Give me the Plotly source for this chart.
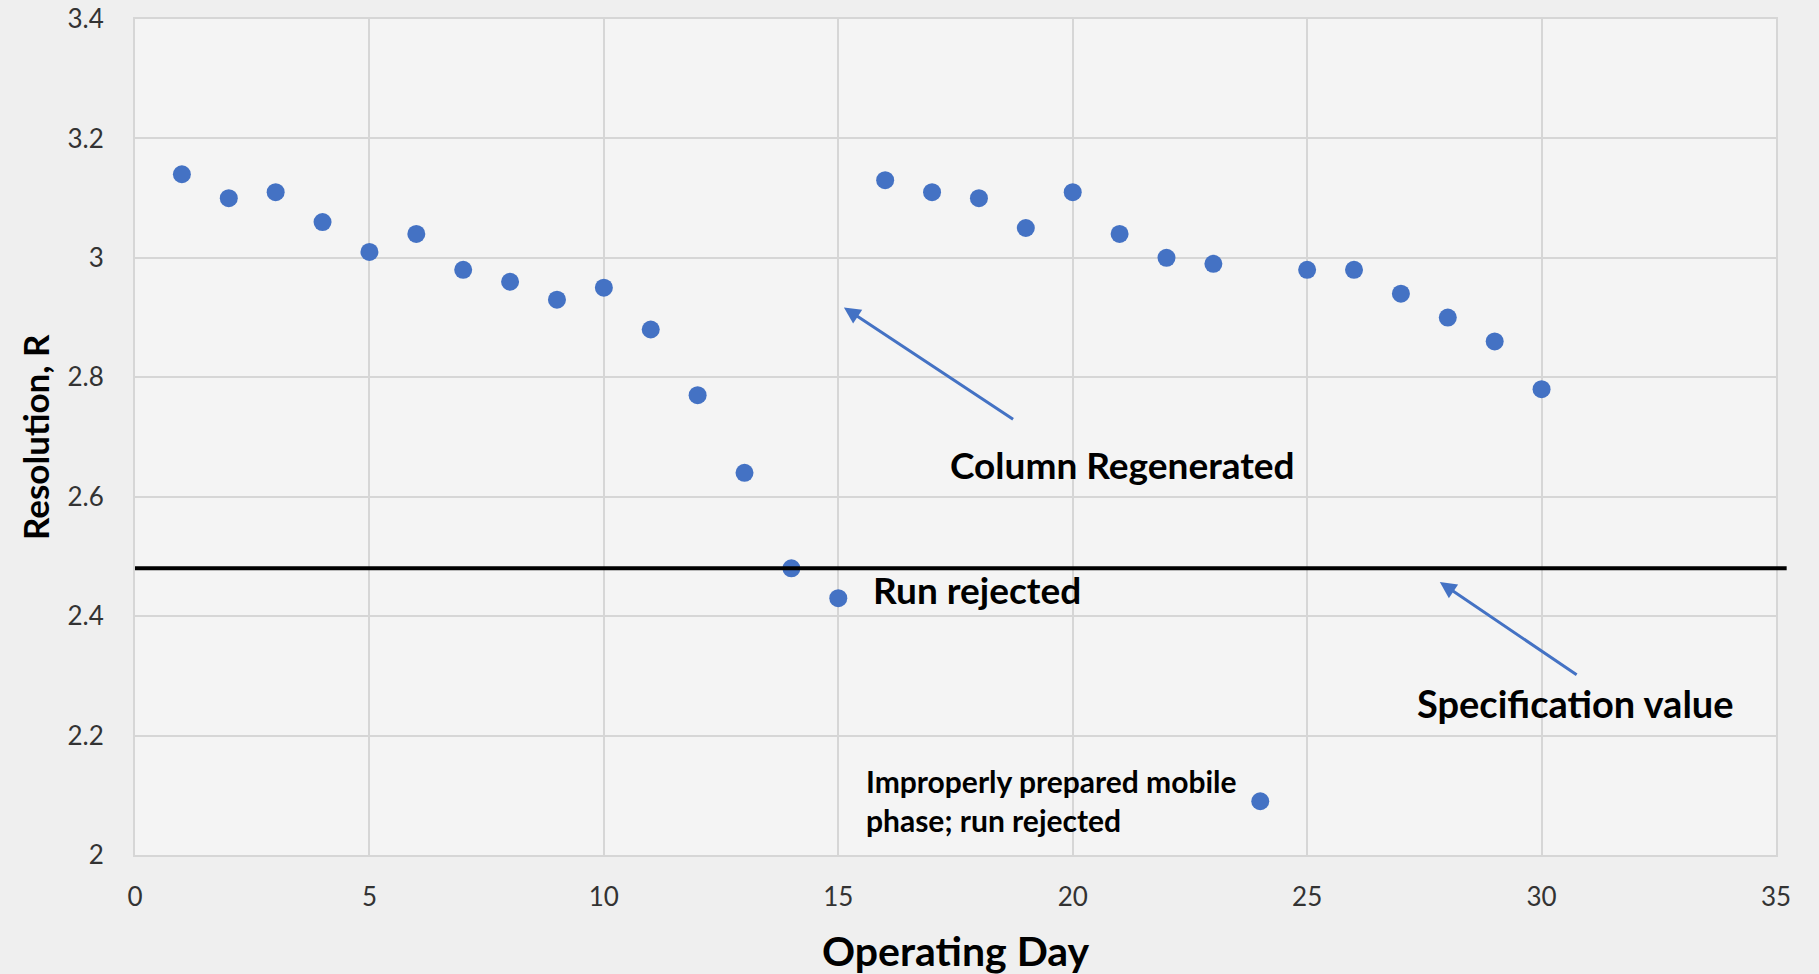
import plotly.graph_objects as go

# Resolution measured on each operating day
days = list(range(1, 31))
resolution = [3.14, 3.10, 3.11, 3.06, 3.01, 3.04, 2.98, 2.96, 2.93, 2.95,
              2.88, 2.77, 2.64, 2.48, 2.43, 3.13, 3.11, 3.10, 3.05, 3.11,
              3.04, 3.00, 2.99, 2.09, 2.98, 2.98, 2.94, 2.90, 2.86, 2.78]
spec_value = 2.48

x_ticks = [0, 5, 10, 15, 20, 25, 30, 35]
y_ticks = [2, 2.2, 2.4, 2.6, 2.8, 3, 3.2, 3.4]
y_labels = ['2', '2.2', '2.4', '2.6', '2.8', '3', '3.2', '3.4']

blue = '#4472C4'
grid = '#d6d6d6'
font = 'Lato'
bg = '#efefef'

fig = go.Figure()
fig.add_trace(go.Scatter(x=days, y=resolution, mode='markers',
                         marker=dict(color=blue, size=18), showlegend=False))

# specification line, runs slightly past the right edge
fig.add_shape(type='line', xref='paper', yref='y', x0=0, x1=1.0065,
              y0=spec_value, y1=spec_value, line=dict(color='black', width=4))

# arrows
fig.add_annotation(x=15.12, y=2.917, ax=18.76, ay=2.728, xref='x', yref='y',
                   axref='x', ayref='y', text='', showarrow=True, arrowhead=2,
                   arrowsize=1.1, arrowwidth=3, arrowcolor=blue)
fig.add_annotation(x=27.83, y=2.457, ax=30.78, ay=2.300, xref='x', yref='y',
                   axref='x', ayref='y', text='', showarrow=True, arrowhead=2,
                   arrowsize=1.1, arrowwidth=3, arrowcolor=blue)

# labels
fig.add_annotation(x=21.07, y=2.654, text='<b>Column Regenerated</b>', showarrow=False,
                   font=dict(family=font, size=37, color='black'), xanchor='center', yanchor='middle')
fig.add_annotation(x=15.70, y=2.444, text='<b>Run rejected</b>', showarrow=False,
                   font=dict(family=font, size=37, color='black'), xanchor='left', yanchor='middle')
fig.add_annotation(x=30.73, y=2.254, text='<b>Specification value</b>', showarrow=False,
                   font=dict(family=font, size=38, color='black'), xanchor='center', yanchor='middle')
fig.add_annotation(x=15.55, y=2.092, text='<b>Improperly prepared mobile<br>phase; run rejected</b>',
                   showarrow=False, font=dict(family=font, size=30, color='black'),
                   xanchor='left', yanchor='middle', align='left')

# axis titles
fig.add_annotation(x=0.5, y=-0.1148, xref='paper', yref='paper', text='<b>Operating Day</b>',
                   showarrow=False, font=dict(family=font, size=41, color='black'),
                   xanchor='center', yanchor='middle')
fig.add_annotation(x=-0.0609, y=0.5, xref='paper', yref='paper', text='<b>Resolution, R</b>',
                   showarrow=False, textangle=-90, font=dict(family=font, size=35, color='black'),
                   xanchor='center', yanchor='middle')

fig.update_xaxes(range=[0, 35], tickvals=x_ticks, showgrid=True, gridcolor=grid, gridwidth=2,
                 showline=True, linecolor=grid, linewidth=2, mirror=True, zeroline=False,
                 ticks='', ticklabelstandoff=18, automargin=False, ticklabeloverflow='allow',
                 tickfont=dict(family=font, size=26, color='#333333'))
fig.update_yaxes(range=[2, 3.4], tickvals=y_ticks, ticktext=y_labels, showgrid=True,
                 gridcolor=grid, gridwidth=2, showline=True, linecolor=grid, linewidth=2,
                 mirror=True, zeroline=False, ticks='', ticklabelstandoff=24, automargin=False,
                 ticklabeloverflow='allow',
                 tickfont=dict(family=font, size=26, color='#333333'))

fig.update_layout(width=1819, height=974, margin=dict(l=135, r=43, t=19, b=119),
                  paper_bgcolor=bg, plot_bgcolor='#f4f4f4', font=dict(family=font))

# drop the default page margin so the figure fills the window
fig.write_html('out.html', config={'displayModeBar': False},
               post_script=f"document.body.style.margin = '0'; document.body.style.background = '{bg}';")
